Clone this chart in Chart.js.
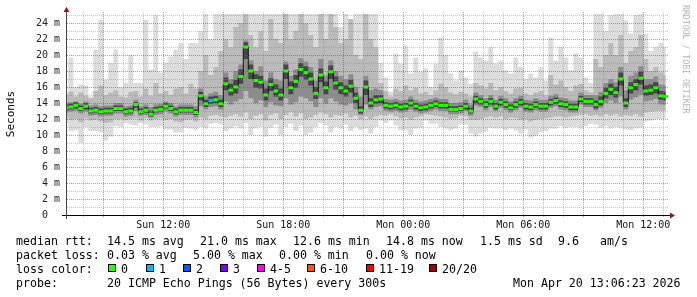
<!DOCTYPE html>
<html><head><meta charset="utf-8">
<script src="https://cdn.jsdelivr.net/npm/chart.js@4"></script>
<style>html,body{margin:0;padding:0;background:#fff;overflow:hidden}canvas{display:block}</style>
</head><body>
<canvas id="c" width="697" height="297"></canvas>
<script>
// ---- data (hours since Sun 00:00; one sample every 15 min) ----
const START_H = 7.125;
const STEP_H = 0.25;
const X_MIN = 7.135;
const X_MAX = 37.235;

const median = [
13.4,13.5,13.7,13.3,13.6,13.0,13.1,12.9,13.0,13.0,
13.3,13.3,12.9,13.0,13.8,12.9,13.1,12.6,13.1,13.2,
13.6,13.3,12.9,13.1,13.1,13.1,12.8,14.9,13.9,14.3,
14.4,13.9,16.4,15.6,16.0,17.3,21.0,18.0,16.8,16.6,
15.0,16.3,15.5,15.0,18.0,15.9,16.7,18.2,17.8,17.0,
15.2,17.5,15.9,17.9,16.5,15.9,15.5,16.1,14.6,13.1,
16.0,14.0,14.4,14.5,13.7,13.6,13.7,13.5,13.6,14.0,
13.6,13.4,13.5,13.7,13.9,13.7,13.7,13.2,13.2,13.3,
13.6,13.0,14.5,14.2,13.8,14.2,13.6,14.1,13.8,13.4,
13.8,14.1,13.6,13.5,13.8,13.6,13.6,14.1,14.3,13.9,
13.8,13.5,13.5,14.5,14.2,14.2,13.8,14.2,15.2,15.7,
15.3,17.0,14.0,15.9,16.3,17.1,15.5,15.6,15.9,14.9,14.8];

const outerHi = [
15.3,19.7,16.0,16.3,16.2,14.8,20.7,24.4,16.9,19.0,
20.7,16.0,16.5,20.0,16.5,16.5,24.4,18.2,25.0,17.8,
19.0,19.8,20.7,21.5,19.5,21.5,21.5,23.0,25.2,22.0,
25.2,25.2,25.2,25.2,25.2,25.2,25.2,25.2,25.2,25.2,
25.2,25.2,25.2,25.2,25.2,25.2,25.2,25.2,25.2,25.2,
25.2,25.2,25.2,25.2,25.2,23.5,25.2,24.0,25.2,25.2,
25.2,25.2,25.2,19.0,17.2,15.4,20.2,18.9,21.2,17.7,
19.7,17.9,18.3,16.0,18.9,22.2,20.0,17.7,16.8,18.1,
17.2,16.4,20.4,19.7,19.3,21.0,18.9,19.3,18.1,17.7,
19.7,18.5,17.0,17.7,17.2,18.5,16.8,22.2,19.3,21.0,
19.7,18.1,20.2,19.7,17.2,16.5,25.2,25.2,23.0,25.0,
25.2,25.2,24.3,22.7,25.0,25.2,22.7,20.5,21.0,21.5,21.0];

const outerLo = [
11.5,10.5,10.6,9.0,11.0,10.5,10.5,10.3,9.3,9.8,
11.1,11.0,11.5,11.3,11.2,11.5,11.3,11.0,11.0,11.1,
10.7,10.7,10.3,10.3,10.9,10.8,10.6,11.0,10.8,11.4,
11.5,11.3,10.5,10.8,11.1,10.8,11.5,10.0,10.8,11.0,
9.8,10.9,11.3,10.0,11.0,11.4,10.5,11.2,10.0,10.3,
11.0,11.5,11.2,10.3,11.0,10.8,11.3,10.5,11.0,10.6,
10.8,10.2,11.0,11.8,11.5,11.8,11.2,10.6,10.6,10.0,
10.8,10.9,11.8,11.4,11.4,11.0,10.8,10.6,10.8,11.3,
11.3,10.2,9.8,10.2,10.4,10.9,10.8,10.8,10.6,10.8,
10.6,10.2,10.7,9.7,9.9,10.3,10.5,10.8,10.8,11.1,
10.9,11.0,11.0,10.8,11.1,11.4,11.3,10.9,11.1,10.8,
11.0,10.9,10.7,10.6,10.8,10.9,11.7,11.8,12.0,12.0,12.0];

const midHi = [
15.0,15.4,14.8,15.3,14.9,14.6,15.5,16.2,15.0,15.3,
15.6,14.8,14.7,15.4,15.5,14.8,15.8,14.9,16.5,15.2,
15.5,15.0,15.8,16.0,15.2,16.4,15.8,18.0,20.0,17.5,
18.5,20.5,22.0,21.0,23.5,24.0,25.2,22.5,21.0,23.0,
20.5,24.5,22.0,21.5,25.2,22.0,23.0,25.2,24.0,22.5,
21.0,25.2,22.0,25.2,23.5,21.5,22.0,24.5,20.0,19.5,
25.2,22.0,21.0,16.5,15.5,14.8,15.8,15.5,16.2,15.6,
15.9,15.2,15.4,15.0,15.6,16.4,16.0,15.3,15.1,15.4,
15.2,14.8,16.5,16.2,15.8,16.5,15.6,16.0,15.5,15.2,
15.8,15.9,15.2,15.0,15.3,15.5,15.0,17.5,16.3,16.8,
16.0,15.5,16.2,16.4,15.6,15.3,19.5,18.5,20.0,21.5,
20.0,22.5,19.0,20.5,21.0,22.5,19.5,18.0,18.5,17.8,17.5];

const midLo = [
12.2,11.9,12.0,11.6,12.1,11.8,11.9,11.7,11.5,11.6,
12.0,12.0,11.9,12.0,12.1,11.8,12.1,11.8,12.0,12.1,
11.9,12.0,11.7,11.6,11.9,12.0,11.7,12.2,12.0,12.4,
12.5,12.3,12.2,12.4,12.6,12.3,12.8,12.0,12.4,12.6,
11.8,12.5,12.7,12.0,12.5,12.8,12.3,12.7,12.0,12.2,
12.5,12.8,12.6,12.2,12.5,12.4,12.7,12.2,12.4,12.0,
12.3,12.0,12.3,12.5,12.4,12.6,12.3,12.1,12.2,11.9,
12.2,12.3,12.6,12.5,12.4,12.3,12.2,12.0,12.1,12.4,
12.3,11.9,11.9,12.0,12.2,12.3,12.2,12.3,12.0,12.2,
12.1,11.9,12.0,11.7,11.9,12.0,12.1,12.2,12.3,12.3,
12.2,12.3,12.4,12.5,12.6,12.4,12.5,12.3,12.6,12.4,
12.6,12.3,12.5,12.4,12.6,12.3,12.8,12.9,13.0,13.0,13.0];

const innHi = [
14.0,14.1,14.2,13.9,14.2,13.7,13.8,13.6,13.7,13.7,
14.0,14.0,13.6,13.7,14.4,13.6,13.8,13.5,13.8,13.9,
14.2,14.0,13.6,13.8,13.8,13.8,13.6,15.8,14.8,15.2,
15.4,15.0,17.8,17.0,18.0,18.8,21.8,19.3,18.0,18.6,
16.8,17.8,17.0,16.8,19.2,17.4,18.2,19.6,19.2,18.5,
16.8,19.5,17.4,19.3,18.0,17.4,17.0,17.6,16.0,14.8,
17.4,15.6,15.8,15.6,14.5,14.4,14.5,14.3,14.4,14.8,
14.4,14.2,14.3,14.5,14.7,14.5,14.5,14.0,14.0,14.1,
14.4,13.8,15.3,15.0,14.6,15.0,14.4,14.9,14.6,14.2,
14.6,14.9,14.4,14.3,14.6,14.4,14.4,14.9,15.1,14.7,
14.6,14.3,14.3,15.3,15.0,15.0,15.0,15.4,16.5,17.0,
16.6,18.5,15.6,17.4,17.8,18.6,17.0,17.0,17.3,16.3,16.2];

const innLo = [
12.8,12.9,13.0,12.7,12.9,12.4,12.5,12.3,12.4,12.4,
12.7,12.7,12.3,12.4,13.0,12.4,12.5,12.2,12.5,12.6,
12.9,12.7,12.3,12.5,12.5,12.5,12.2,13.6,13.2,13.5,
13.6,13.2,14.2,13.8,14.2,14.5,15.5,14.6,14.0,14.3,
13.5,14.1,13.7,13.6,14.6,13.8,14.1,14.8,14.6,14.2,
13.5,14.6,13.9,14.6,14.2,13.8,13.7,14.0,13.2,12.5,
13.8,13.2,13.5,13.6,13.0,12.9,13.0,12.8,12.9,13.2,
12.9,12.7,12.8,13.0,13.2,13.0,13.0,12.6,12.6,12.7,
13.0,12.4,13.7,13.5,13.1,13.5,13.0,13.4,13.1,12.8,
13.1,13.4,12.9,12.8,13.1,12.9,12.9,13.4,13.6,13.2,
13.1,12.8,12.8,13.8,13.5,13.5,13.1,13.4,14.0,14.3,
14.0,14.8,13.2,14.4,14.7,15.0,14.2,14.3,14.5,13.8,13.8];

const coreHi = [
13.8,13.9,14.1,13.7,14.0,13.4,13.5,13.3,13.4,13.4,
13.7,13.7,13.3,13.4,14.1,13.3,13.5,13.0,13.5,13.6,
14.0,13.7,13.3,13.5,13.5,13.5,13.2,15.4,14.4,14.8,
14.9,14.4,17.2,16.4,16.9,18.2,21.6,18.8,17.6,17.4,
15.8,17.1,16.3,15.8,18.8,16.7,17.5,19.0,18.6,17.8,
16.0,18.3,16.7,18.7,17.3,16.6,16.2,16.9,15.3,13.6,
16.8,14.6,15.0,15.0,14.1,14.0,14.1,13.9,14.0,14.4,
14.0,13.8,13.9,14.1,14.3,14.1,14.1,13.6,13.6,13.7,
14.0,13.4,14.9,14.6,14.2,14.6,14.0,14.5,14.2,13.8,
14.2,14.5,14.0,13.9,14.2,14.0,14.0,14.5,14.7,14.3,
14.2,13.9,13.9,14.9,14.6,14.6,14.3,14.8,15.9,16.4,
16.0,17.8,14.6,16.6,17.0,17.9,16.2,16.3,16.6,15.5,15.4];

const coreLo = [
13.1,13.2,13.3,13.0,13.2,12.7,12.8,12.6,12.7,12.7,
13.0,13.0,12.6,12.7,13.4,12.6,12.8,12.3,12.8,12.9,
13.3,13.0,12.6,12.8,12.8,12.8,12.5,14.3,13.5,13.9,
14.0,13.5,15.6,14.9,15.2,16.4,19.5,17.0,15.9,15.8,
14.3,15.5,14.8,14.3,17.0,15.1,15.9,17.3,16.9,16.2,
14.5,16.6,15.1,17.0,15.7,15.1,14.8,15.3,14.0,12.7,
15.0,13.5,13.9,14.0,13.3,13.2,13.3,13.1,13.2,13.6,
13.2,13.0,13.1,13.3,13.5,13.3,13.3,12.9,12.9,13.0,
13.2,12.7,14.0,13.8,13.4,13.8,13.2,13.7,13.4,13.1,
13.4,13.7,13.2,13.1,13.4,13.2,13.2,13.7,13.9,13.5,
13.4,13.1,13.1,14.1,13.8,13.8,13.3,13.7,14.6,15.0,
14.7,16.2,13.5,15.2,15.6,16.3,14.9,15.0,15.2,14.4,14.3];

// pings lost (of 20) per sample
const lossPings = new Array(median.length).fill(0);
lossPings[29] = 1;

const xTickHours = [8,9,10,11,12,13,14,15,16,17,18,19,20,21,22,23,24,25,26,27,28,29,30,31,32,33,34,35,36,37];
const xTickLabels = {12:'Sun 12:00',18:'Sun 18:00',24:'Mon 00:00',30:'Mon 06:00',36:'Mon 12:00'};
const yTickValues = [0,1,2,3,4,5,6,7,8,9,10,11,12,13,14,15,16,17,18,19,20,21,22,23,24,25];
const Y_MAX = 25.125;

const lossLegend = ['0','1','2','3','4-5','6-10','11-19','20/20'];
const lossColors = ['#26ff00','#00b8ff','#0059ff','#7e00ff','#ff00ff','#ff5500','#ff0000','#a10000'];

const legendLines = [
  [['median rtt:',16],['14.5 ms avg',107],['21.0 ms max',200],['12.6 ms min',293],['14.8 ms now',386],['1.5 ms sd',480],['9.6',558],['am/s',600]],
  [['packet loss:',16],['0.03 % avg',107],['5.00 % max',193],['0.00 % min',279],['0.00 % now',366]],
  [['loss color:',16]],
  [['probe:',16],['20 ICMP Echo Pings (56 Bytes) every 300s',107],['Mon Apr 20 13:06:23 2026',513]]
];
const lossBoxX = [108,146,183,220,257,307,366,429];

// ---- chart ----
const pts = arr => arr.map((v,i) => ({x: START_H + STEP_H*i, y: v}));
const band = (arr, color, fillTo, order) => ({
  data: pts(arr), stepped: 'middle', borderColor: 'rgba(0,0,0,0)', borderWidth: 0,
  backgroundColor: color || 'rgba(0,0,0,0)', fill: fillTo === undefined ? false : fillTo,
  pointRadius: 0, order: order
});
const lossColorOf = n => n===0?lossColors[0]:n===1?lossColors[1]:n===2?lossColors[2]:n===3?lossColors[3]:n<=5?lossColors[4]:n<=10?lossColors[5]:n<=19?lossColors[6]:lossColors[7];

const monoFont = 'DejaVu Sans Mono';
const RED_DOT = 'rgba(235,40,40,0.6)';
const GRAY_DOT = 'rgba(140,140,140,0.5)';
const MEDIAN_INDEX = 8;

// dotted grid drawn from the scales' own tick positions, above the smoke
const dottedGrid = {
  id: 'dottedGrid',
  beforeDatasetDraw(chart, args) {
    if (args.index !== MEDIAN_INDEX) return;
    const ctx = chart.ctx, a = chart.chartArea, xs = chart.scales.x, ys = chart.scales.y;
    const left = Math.round(a.left), right = Math.round(a.right);
    const top = Math.round(a.top) - 2, bottom = Math.round(a.bottom);
    ctx.save();
    yTickValues.forEach(v => {
      const y = Math.round(ys.getPixelForValue(v));
      if (v === 0) return;
      ctx.fillStyle = v % 2 === 0 ? RED_DOT : GRAY_DOT;
      for (let x = left + 1; x <= right; x += 2) ctx.fillRect(x, y, 1, 1);
    });
    xTickHours.forEach(h => {
      const x = Math.round(xs.getPixelForValue(h));
      ctx.fillStyle = h % 3 === 0 ? RED_DOT : GRAY_DOT;
      for (let y = top; y <= bottom + 2; y += 2) ctx.fillRect(x, y, 1, 1);
    });
    ctx.restore();
  }
};

const decor = {
  id: 'decor',
  afterDraw(chart) {
    const ctx = chart.ctx;
    ctx.save();
    // axes
    ctx.strokeStyle = '#000'; ctx.lineWidth = 1;
    ctx.beginPath(); ctx.moveTo(62, 215.5); ctx.lineTo(671, 215.5); ctx.stroke();
    ctx.strokeStyle = '#444';
    ctx.beginPath(); ctx.moveTo(66.5, 219); ctx.lineTo(66.5, 11); ctx.stroke();
    // arrows
    ctx.fillStyle = '#8b1a1a';
    ctx.beginPath(); ctx.moveTo(63.5,12); ctx.lineTo(69.5,12); ctx.lineTo(66.5,7); ctx.closePath(); ctx.fill();
    ctx.beginPath(); ctx.moveTo(670,212.5); ctx.lineTo(670,218.5); ctx.lineTo(675,215.5); ctx.closePath(); ctx.fill();
    // y title
    ctx.fillStyle = '#000';
    ctx.font = '11px "' + monoFont + '"';
    ctx.textAlign = 'center'; ctx.textBaseline = 'middle';
    ctx.save(); ctx.translate(11, 114); ctx.rotate(-Math.PI/2); ctx.fillText('Seconds', 0, 0); ctx.restore();
    // watermark
    ctx.save(); ctx.fillStyle = '#b4b4b4'; ctx.font = '8.2px "' + monoFont + '"';
    ctx.textAlign = 'left'; ctx.translate(685, 5); ctx.rotate(Math.PI/2); ctx.fillText('RRDTOOL / TOBI OETIKER', 0, 0); ctx.restore();
    // legend text
    ctx.fillStyle = '#000';
    ctx.font = '11.6px "' + monoFont + '"';
    ctx.textAlign = 'left'; ctx.textBaseline = 'alphabetic';
    legendLines.forEach((line, li) => {
      const y = 245 + li*14;
      line.forEach(([t,x]) => ctx.fillText(t, x, y));
    });
    lossBoxX.forEach((x, k) => {
      ctx.fillStyle = lossColors[k];
      ctx.fillRect(x, 264, 8, 8);
      ctx.strokeStyle = '#000'; ctx.lineWidth = 1;
      ctx.strokeRect(x+0.5, 264.5, 7, 7);
      ctx.fillStyle = '#000';
      ctx.fillText(lossLegend[k], x + 13, 273);
    });
    ctx.restore();
  }
};

new Chart(document.getElementById('c'), {
  type: 'line',
  data: { datasets: [
    band(outerLo, null, undefined, 6),
    band(outerHi, '#dcdcdc', 0, 6),
    band(midLo, null, undefined, 5),
    band(midHi, '#bababa', 2, 5),
    band(innLo, null, undefined, 4),
    band(innHi, '#8c8c8c', 4, 4),
    band(coreLo, null, undefined, 3),
    band(coreHi, '#474747', 6, 3),
    { data: pts(median), stepped: 'middle', borderColor: '#151515', borderWidth: 1, fill: false,
      pointStyle: 'line', pointRadius: 2.5, pointBorderWidth: 3,
      pointBorderColor: lossPings.map(lossColorOf), pointBackgroundColor: lossPings.map(lossColorOf), order: 1 }
  ]},
  options: {
    responsive: false, animation: false, devicePixelRatio: 1,
    events: [],
    layout: { padding: { left: 0, right: 29, top: 14, bottom: 0 } },
    plugins: { legend: { display: false }, tooltip: { enabled: false } },
    scales: {
      x: {
        type: 'linear', min: X_MIN, max: X_MAX,
        afterBuildTicks: s => { s.ticks = xTickHours.map(v => ({ value: v })); },
        afterFit: s => { s.height = 82; },
        grid: { display: false, drawTicks: false },
        border: { display: false },
        ticks: { autoSkip: false, maxRotation: 0, minRotation: 0, padding: 4, color: '#111',
          font: { family: monoFont, size: 10 }, callback: v => xTickLabels[v] || '' }
      },
      y: {
        min: 0, max: Y_MAX,
        afterBuildTicks: s => { s.ticks = yTickValues.map(v => ({ value: v })); },
        afterFit: s => { s.width = 66; },
        grid: { display: false, drawTicks: false },
        border: { display: false },
        ticks: { autoSkip: false, padding: 6, color: '#222', font: { family: monoFont, size: 10 },
          callback: v => v === 0 ? '0  ' : (v % 2 === 0 && v <= 24 ? v + ' m' : '') }
      }
    }
  },
  plugins: [dottedGrid, decor]
});
</script>
</body></html>
